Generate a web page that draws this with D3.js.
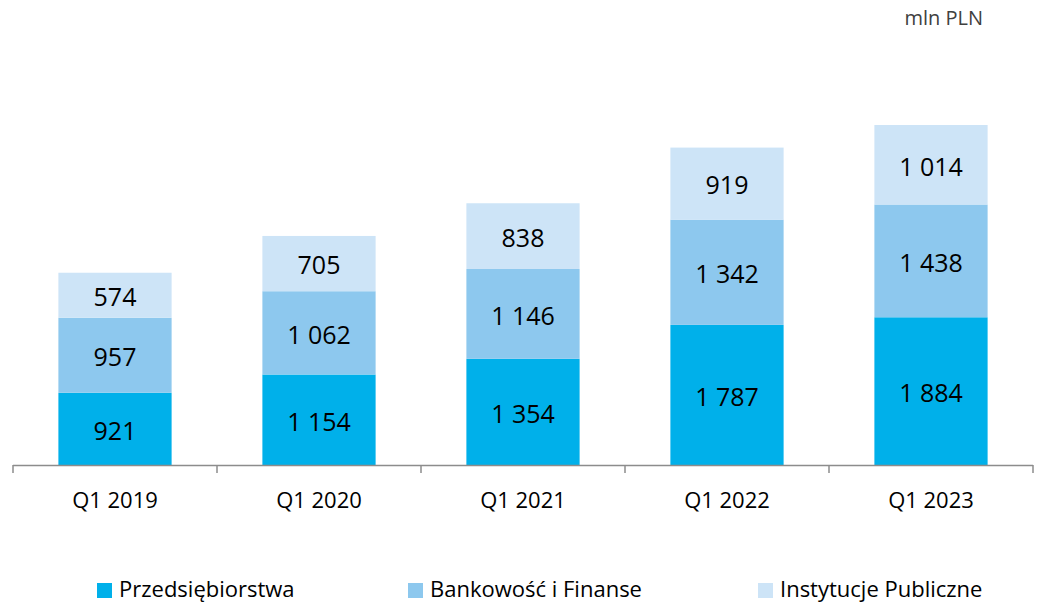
<!DOCTYPE html>
<meta charset="utf-8">
<script src="https://d3js.org/d3.v7.min.js"></script>
<style>
  body { margin: 0; background: #fff; }
  text { font-family: "Open Sans", "Noto Sans", sans-serif; }
</style>
<div id="chart"></div>
<script>

// data
var quarters = ["Q1 2019", "Q1 2020", "Q1 2021", "Q1 2022", "Q1 2023"];
var seriesNames = ["Przedsiębiorstwa", "Bankowość i Finanse", "Instytucje Publiczne"];
var przedsiebiorstwa = [921, 1154, 1354, 1787, 1884];
var bankowosc = [957, 1062, 1146, 1342, 1438];
var instytucje = [574, 705, 838, 919, 1014];
var colors = ["#00b0ea", "#8dc8ee", "#cde4f7"];

var width = 1039, height = 605;
var margin = {top: 20, left: 13, right: 6, bottom: 140};

var svg = d3.select("#chart")
  .append("svg")
    .attr("width", width)
    .attr("height", height);

var table = quarters.map(function(q, i) {
  return {q: q, s0: przedsiebiorstwa[i], s1: bankowosc[i], s2: instytucje[i]};
});
var stack = d3.stack().keys(["s0", "s1", "s2"])(table);

var x = d3.scaleBand()
  .domain(quarters)
  .range([margin.left, width - margin.right])
  .paddingInner(0.445)
  .paddingOuter(0.2225);

var y = d3.scaleLinear()
  .domain([0, 4336])
  .range([465, 125]);

// bars
var fmt = function(v) { return d3.format(",")(v).replace(/,/g, " "); };

var groups = svg.selectAll("g.layer")
  .data(stack)
  .enter()
  .append("g")
  .attr("class", "layer")
  .attr("fill", function(d, i) { return colors[i]; });

groups.selectAll("rect")
  .data(function(d) { return d; })
  .enter()
  .append("rect")
  .attr("x", function(d) { return x(d.data.q); })
  .attr("y", function(d) { return y(d[1]); })
  .attr("width", x.bandwidth())
  .attr("height", function(d) { return y(d[0]) - y(d[1]); });

groups.selectAll("text")
  .data(function(d) { return d; })
  .enter()
  .append("text")
  .attr("x", function(d) { return x(d.data.q) + x.bandwidth() / 2; })
  .attr("y", function(d) { return (y(d[0]) + y(d[1])) / 2; })
  .attr("dy", "0.43em")
  .attr("text-anchor", "middle")
  .style("font-size", "25px")
  .style("fill", "#000")
  .text(function(d) { return fmt(d[1] - d[0]); });

// x axis with ticks between categories
var axis = svg.append("g");
axis.append("line")
  .attr("x1", margin.left).attr("x2", width - margin.right)
  .attr("y1", 465.5).attr("y2", 465.5)
  .attr("stroke", "#8c8c8c").attr("stroke-width", 1.5);

var step = x.step();
var tickX = d3.range(quarters.length + 1).map(function(i) { return margin.left + i * step; });
axis.selectAll("line.tick")
  .data(tickX)
  .enter()
  .append("line")
  .attr("class", "tick")
  .attr("x1", function(d) { return d; }).attr("x2", function(d) { return d; })
  .attr("y1", 465).attr("y2", 473)
  .attr("stroke", "#8c8c8c").attr("stroke-width", 1.5);

axis.selectAll("text")
  .data(quarters)
  .enter()
  .append("text")
  .attr("x", function(d) { return x(d) + x.bandwidth() / 2; })
  .attr("y", 508)
  .attr("text-anchor", "middle")
  .style("font-size", "22px")
  .style("fill", "#000")
  .text(function(d) { return d; });

// unit
svg.append("text")
  .attr("x", 983)
  .attr("y", 25)
  .attr("text-anchor", "end")
  .style("font-size", "20px")
  .style("fill", "#404040")
  .text("mln PLN");

// legend
var legendX = [97, 408, 758];
var legend = svg.selectAll("g.legend")
  .data(seriesNames)
  .enter()
  .append("g")
  .attr("class", "legend")
  .attr("transform", function(d, i) { return "translate(" + legendX[i] + ",583)"; });

legend.append("rect")
  .attr("width", 15).attr("height", 15)
  .attr("fill", function(d, i) { return colors[i]; });

legend.append("text")
  .attr("x", 22)
  .attr("y", 14)
  .style("font-size", "22px")
  .style("fill", "#000")
  .text(function(d) { return d; });

</script>
